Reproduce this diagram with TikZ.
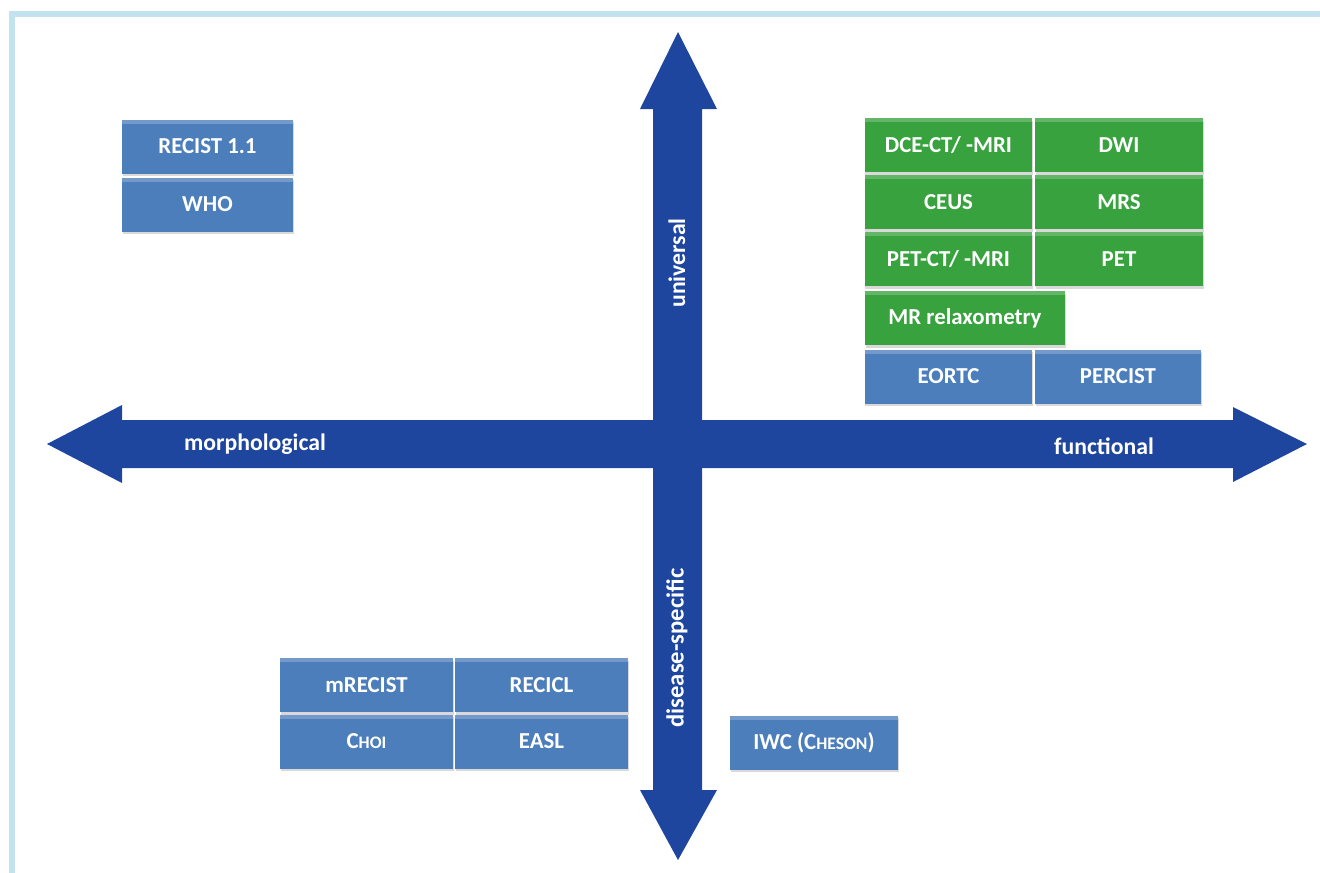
\documentclass[tikz,border=0pt]{standalone}
\usepackage{fontspec}
\setmainfont{Carlito}
\usetikzlibrary{shadows,positioning}
\definecolor{axisblue}{RGB}{30,70,158}
\definecolor{boxblue}{RGB}{76,126,188}
\definecolor{boxgreen}{RGB}{56,162,62}
\definecolor{framecol}{RGB}{194,226,240}
\newcommand{\fsc}[2]{#1{\fontsize{10}{12}\selectfont #2}}
\tikzset{
  crit/.style={fill=boxblue, text=white, inner sep=0pt, outer sep=0pt,
    minimum height=1.08cm, minimum width=3.36cm,
    font=\bfseries\fontsize{13}{15}\selectfont,
    drop shadow={opacity=0.3, shadow xshift=0.4pt, shadow yshift=-1.5pt},
    path picture={\fill[white,opacity=0.22] (path picture bounding box.north west)
      rectangle ([yshift=-2.5pt]path picture bounding box.north east);}},
  func/.style={crit, fill=boxgreen},
  axis/.style={fill=axisblue},
  axislabel/.style={text=white, font=\bfseries\fontsize{13.5}{16}\selectfont, inner sep=0pt}
}
\begin{document}
\begin{tikzpicture}[x=0.02cm, y=-0.02cm]
  \useasboundingbox (0,0) rectangle (1320,873);
  % frame
  \draw[framecol, line width=0.13cm] (12,873) -- (12,14) -- (1320,14);
  % horizontal axis
  \fill[axis] (47,444) -- (122,405) -- (122,420) -- (1233,420) -- (1233,407)
    -- (1307,444) -- (1233,482) -- (1233,468) -- (122,468) -- (122,483) -- cycle;
  % vertical axis
  \fill[axis] (678,32) -- (717,109) -- (702,109) -- (702,790) -- (717,790)
    -- (678,860) -- (640,790) -- (653,790) -- (653,109) -- (640,109) -- cycle;
  \node[axislabel] (morph) at (255,444) {morphological};
  \node[axislabel] (funct) at (1104,446) {functional};
  \node[axislabel, rotate=90] (univ) at (677,263) {universal};
  \node[axislabel, rotate=90, font=\bfseries\fontsize{14}{16}\selectfont] (disspec) at (677,648) {disease-specific};
  % morphological, universal
  \node[crit, minimum width=3.42cm] (recist) at (207.5,146.5) {RECIST 1.1};
  \node[crit, minimum width=3.42cm] (who) at (207.5,204.5) {WHO};
  % functional, universal
  \node[func] (dce) at (948.5,145) {DCE-CT/ -MRI};
  \node[func] (dwi) at (1119,145) {DWI};
  \node[func] (ceus) at (948.5,202) {CEUS};
  \node[func] (mrs) at (1119,202) {MRS};
  \node[func] (petct) at (948.5,259) {PET-CT/ -MRI};
  \node[func] (pet) at (1119,259) {PET};
  \node[func, minimum width=4cm] (mrrel) at (965,318) {MR relaxometry};
  \node[crit] (eortc) at (948.5,376.5) {EORTC};
  \node[crit, minimum width=3.32cm] (percist) at (1118,376.5) {PERCIST};
  % morphological, disease-specific
  \node[crit, minimum width=3.46cm] (mrecist) at (366.5,685) {mRECIST};
  \node[crit, minimum width=3.46cm] (recicl) at (541.5,685) {RECICL};
  \node[crit, minimum width=3.46cm] (choi) at (366.5,741.5) {\fsc{C}{HOI}};
  \node[crit, minimum width=3.46cm] (easl) at (541.5,741.5) {EASL};
  % functional, disease-specific
  \node[crit] (iwc) at (814,742.5) {IWC (\fsc{C}{HESON})};
\end{tikzpicture}
\end{document}
